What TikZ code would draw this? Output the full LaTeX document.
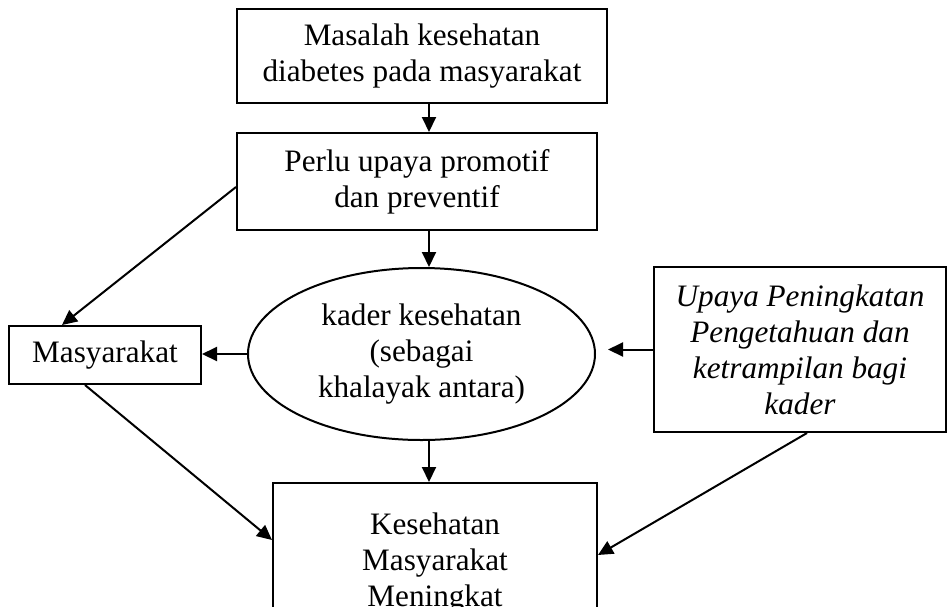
\documentclass[tikz,border=0pt]{standalone}
\usepackage{fontspec}
\setmainfont{Liberation Serif}
\usetikzlibrary{positioning, arrows.meta, shapes.geometric, calc}

\begin{document}
\begin{tikzpicture}[
  x=0.5pt, y=-0.5pt,
  >=Triangle,
  box/.style={draw, line width=1pt, inner sep=2pt, align=center,
              font=\fontsize{15.6}{18}\selectfont},
  oval/.style={draw, ellipse, line width=1pt, inner sep=0pt, align=center,
               minimum width=173.5pt, minimum height=86pt,
               font=\fontsize{15.6}{18}\selectfont},
  arr/.style={-{Triangle[length=7.5pt, width=7pt]}, line width=1pt},
]
\useasboundingbox (0,0) rectangle (948,606);

% --- Main column ---
\node[box, minimum width=185pt, minimum height=47pt] (masalah) at (422,56)
  {Masalah kesehatan\\diabetes pada masyarakat};
\node[box, minimum width=180pt, minimum height=48.5pt] (upaya) at (417,181.5)
  {Perlu upaya promotif\\dan preventif};
\node[oval] (kader) at (421.5,354)
  {kader kesehatan\\(sebagai\\khalayak antara)};
\node[box, minimum width=162pt, minimum height=80pt] (hasil) at (435,563)
  {Kesehatan\\Masyarakat\\Meningkat};

% --- Side boxes ---
\node[box, minimum width=96pt, minimum height=29pt] (masy) at (105,355) {Masyarakat};
\node[box, minimum width=146pt, minimum height=82.5pt, font=\fontsize{15.6}{18}\selectfont\itshape]
  (latih) at (800,349.5)
  {Upaya Peningkatan\\Pengetahuan dan\\ketrampilan bagi\\kader};

% --- Arrows ---
\coordinate (axis) at (429,0);
\draw[arr] (masalah.south -| axis) -- (upaya.north -| axis);
\draw[arr] (upaya.south -| axis) -- (kader.north -| axis);
\draw[arr] (kader.south -| axis) -- (hasil.north -| axis);

\draw[arr] ($(upaya.west)+(0,5.5)$) -- ($(masy.north)+(-43,0)$);
\draw[arr] (kader.west) -- (kader.west -| masy.east);
\draw[arr, shorten >=6pt] (latih.west) -- (latih.west -| kader.east);

\draw[arr] ($(masy.south)+(-20,0)$) -- ($(hasil.west)+(0,-23)$);
\draw[arr] ($(latih.south)+(7,0)$) -- ($(hasil.east)+(0,-8)$);

\end{tikzpicture}
\end{document}
